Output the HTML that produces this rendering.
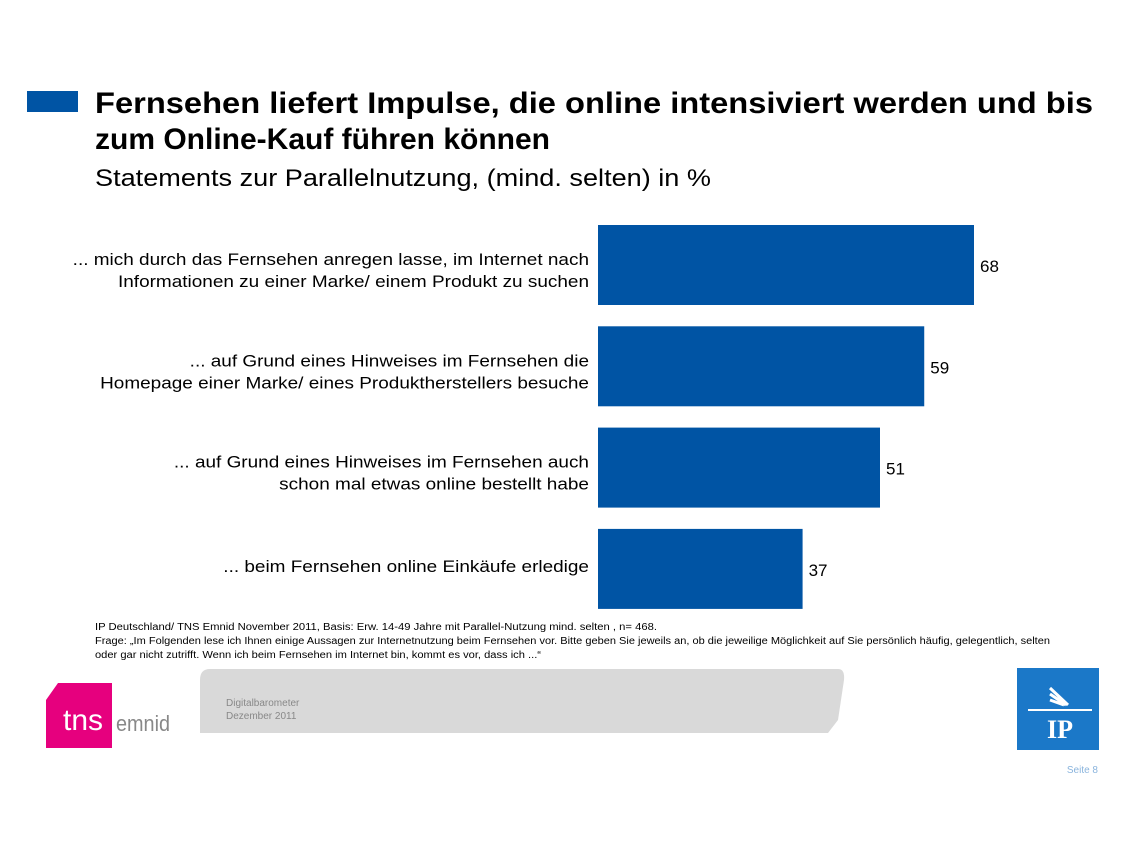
<!DOCTYPE html>
<html><head><meta charset="utf-8">
<style>
html,body{margin:0;padding:0;background:#fff;}
body{width:1140px;height:855px;overflow:hidden;font-family:"Liberation Sans",Arial,sans-serif;}
</style></head>
<body>
<svg id="chart" width="1140" height="855" viewBox="0 0 1140 855" xmlns="http://www.w3.org/2000/svg" font-family="Liberation Sans, Arial, sans-serif">
  <rect x="27" y="91" width="51" height="21" fill="#0054A4"/>
  <text x="95" y="113" font-size="30" font-weight="bold" fill="#000" textLength="998" lengthAdjust="spacingAndGlyphs">Fernsehen liefert Impulse, die online intensiviert werden und bis</text>
  <text x="95" y="149" font-size="30" font-weight="bold" fill="#000">zum Online-Kauf führen können</text>
  <text x="95" y="186" font-size="24" fill="#000" textLength="616" lengthAdjust="spacingAndGlyphs">Statements zur Parallelnutzung, (mind. selten) in %</text>
  <g id="bars"></g>
  <g font-size="10" fill="#000">
    <text x="95" y="630" textLength="562" lengthAdjust="spacingAndGlyphs">IP Deutschland/ TNS Emnid November  2011, Basis: Erw. 14-49 Jahre mit Parallel-Nutzung mind. selten  , n= 468.</text>
    <text x="95" y="644" textLength="955" lengthAdjust="spacingAndGlyphs">Frage: „Im Folgenden lese ich Ihnen einige Aussagen zur Internetnutzung beim Fernsehen vor. Bitte geben Sie jeweils an, ob die jeweilige Möglichkeit  auf Sie persönlich häufig, gelegentlich, selten</text>
    <text x="95" y="658" textLength="446" lengthAdjust="spacingAndGlyphs">oder gar nicht zutrifft. Wenn ich beim Fernsehen im Internet bin, kommt es vor, dass ich ...“</text>
  </g>
  <path d="M210 669 H838 Q845 669 844 680 L838 720 L828 733 H200 V680 Q200 669 210 669 Z" fill="#d9d9d9"/>
  <text x="226" y="706" font-size="10" fill="#888">Digitalbarometer</text>
  <text x="226" y="719" font-size="10" fill="#888">Dezember 2011</text>
  <g>
    <path d="M58 683 H112 V748 H46 V700 Z" fill="#e6007e"/>
    <text x="63" y="730" font-size="30" fill="#fff">tns</text>
    <text x="116" y="731" font-size="22" fill="#888" textLength="54" lengthAdjust="spacingAndGlyphs">emnid</text>
  </g>
  <g>
    <rect x="1017" y="668" width="82" height="82" fill="#1b78c8"/>
    <line x1="1028" y1="710" x2="1092" y2="710" stroke="#fff" stroke-width="2"/>
    <path d="M1050 688 L1068 705 M1050 694 L1066 705 M1050 700 L1064 705" stroke="#fff" stroke-width="3"/>
    <text x="1060" y="738" font-size="26" font-weight="bold" fill="#fff" text-anchor="middle" font-family="Liberation Serif, serif">IP</text>
  </g>
  <text x="1098" y="773" font-size="10" fill="#8ab4dd" text-anchor="end">Seite 8</text>
</svg>
<script>
const categoriesLine1 = ["... mich durch das Fernsehen anregen lasse, im Internet nach", "... auf Grund eines Hinweises im Fernsehen die", "... auf Grund eines Hinweises im Fernsehen auch", "... beim Fernsehen online Einkäufe erledige"];
const categoriesLine2 = ["Informationen zu einer Marke/ einem Produkt zu suchen", "Homepage einer Marke/ eines Produktherstellers besuche", "schon mal etwas online bestellt habe", ""];
const values = [68, 59, 51, 37];

const x0 = 598, pxPerUnit = 376 / 68;
const xScale = v => x0 + v * pxPerUnit;
const yTop = i => 225 + i * 101.3;
const barH = 80;
const NS = "http://www.w3.org/2000/svg";
const g = document.getElementById("bars");
function mk(tag, attrs) { const e = document.createElementNS(NS, tag); for (const k in attrs) e.setAttribute(k, attrs[k]); return e; }
function widen(t) { const w = t.getComputedTextLength(); t.setAttribute("textLength", (w * 1.115).toFixed(1)); t.setAttribute("lengthAdjust", "spacingAndGlyphs"); }
values.forEach((v, i) => {
  const y = yTop(i);
  const r = mk("rect", {x: x0, y: y, width: xScale(v) - x0, height: barH, fill: "#0054A4"});
  
  
  g.appendChild(r);
  const t = mk("text", {x: xScale(v) + 6, y: y + barH / 2 + 7, "font-size": 17, fill: "#000"});
  t.textContent = v;
  
  
  g.appendChild(t);
  const two = categoriesLine2[i] !== "";
  const l1 = mk("text", {x: 589, y: two ? y + 40 : y + 43, "font-size": 17, fill: "#000", "text-anchor": "end"});
  l1.textContent = categoriesLine1[i];
  
  
  g.appendChild(l1);
  widen(l1);
  if (two) {
    const l2 = mk("text", {x: 589, y: y + 62, "font-size": 17, fill: "#000", "text-anchor": "end"});
    l2.textContent = categoriesLine2[i];
    
    
    g.appendChild(l2);
    widen(l2);
  }
});
</script>
</body></html>
